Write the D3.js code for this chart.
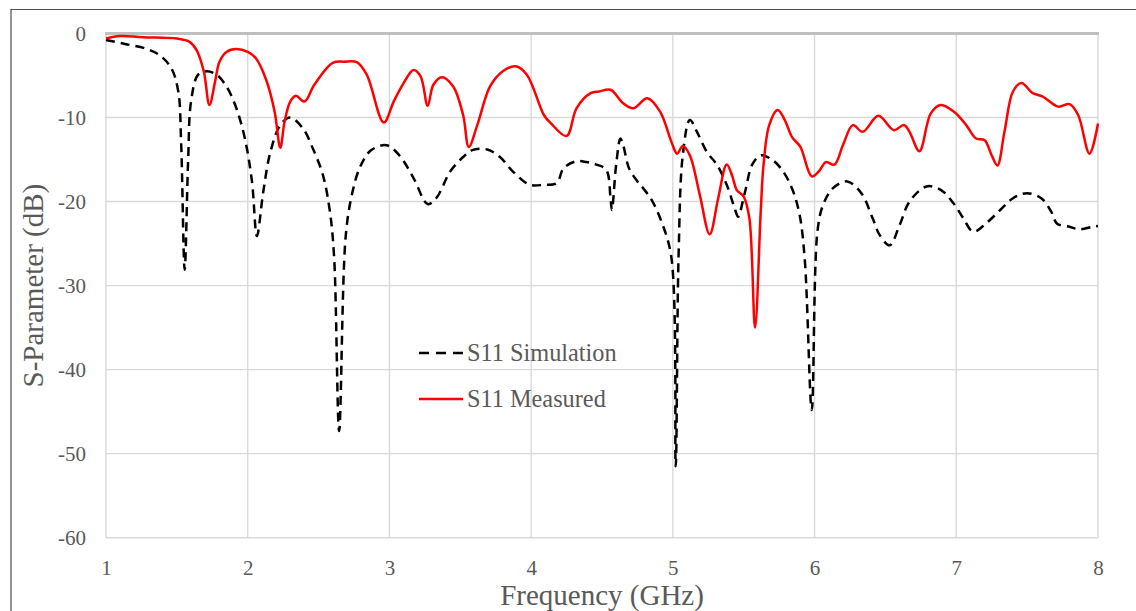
<!DOCTYPE html>
<html>
<head>
<meta charset="utf-8">
<script src="https://cdn.jsdelivr.net/npm/d3@7"></script>
<style>
  html, body { margin: 0; padding: 0; background: #fff; }
  svg { display: block; }
  text { font-family: "Liberation Serif", "Times New Roman", serif; fill: #595959; }
</style>
</head>
<body>
<svg id="chart" width="1136" height="611"></svg>
<script>
// Frequency axis ticks (GHz) and S-parameter ticks (dB)
const xTicks = [1, 2, 3, 4, 5, 6, 7, 8];
const yTicks = [0, -10, -20, -30, -40, -50, -60];

// S11 simulation: frequency (GHz) and magnitude (dB)
const simFreq = [1.00, 1.15, 1.29, 1.38, 1.46, 1.51, 1.53, 1.555, 1.58, 1.60, 1.65, 1.71, 1.78, 1.85, 1.92, 1.98, 2.03, 2.065, 2.11, 2.16, 2.23, 2.30, 2.39, 2.46, 2.53, 2.58, 2.61, 2.645, 2.69, 2.73, 2.79, 2.87, 2.98, 3.07, 3.17, 3.27, 3.33, 3.43, 3.52, 3.58, 3.69, 3.78, 3.87, 3.99, 4.09, 4.18, 4.23, 4.32, 4.39, 4.46, 4.53, 4.56, 4.57, 4.60, 4.63, 4.65, 4.69, 4.75, 4.79, 4.85, 4.92, 4.99, 5.02, 5.04, 5.07, 5.12, 5.17, 5.24, 5.31, 5.38, 5.44, 5.46, 5.51, 5.56, 5.62, 5.69, 5.76, 5.83, 5.89, 5.93, 5.98, 6.02, 6.06, 6.13, 6.23, 6.33, 6.41, 6.46, 6.53, 6.60, 6.67, 6.79, 6.89, 6.98, 7.05, 7.12, 7.21, 7.31, 7.40, 7.50, 7.60, 7.67, 7.71, 7.80, 7.87, 7.96, 8.00];
const simDb = [-0.77, -1.3, -1.85, -2.6, -4.1, -6.9, -12.9, -28.1, -14.9, -8.1, -4.9, -4.5, -4.9, -6.3, -8.9, -12.5, -17.6, -24.1, -18.8, -14.1, -10.9, -10.0, -11.3, -13.7, -16.8, -21.2, -26.7, -47.3, -24.4, -19.6, -16.0, -13.9, -13.3, -14.5, -17.2, -20.3, -19.6, -16.4, -14.7, -13.9, -13.8, -14.7, -16.4, -18.0, -18.0, -17.8, -16.0, -15.2, -15.3, -15.6, -16.2, -19.6, -21.0, -15.6, -12.5, -13.3, -16.0, -17.6, -18.4, -19.8, -22.4, -26.7, -51.5, -26.7, -14.5, -10.3, -11.7, -14.1, -15.6, -18.0, -21.0, -21.8, -18.8, -15.6, -14.5, -14.9, -16.0, -18.0, -21.2, -26.7, -44.8, -23.6, -20.4, -18.4, -17.6, -19.0, -22.0, -24.0, -25.2, -22.8, -20.0, -18.2, -18.6, -20.2, -22.0, -23.6, -22.6, -21.0, -19.6, -19.0, -19.6, -21.2, -22.6, -23.0, -23.3, -23.0, -22.9];

// S11 measured: frequency (GHz) and magnitude (dB)
const measFreq = [1.00, 1.10, 1.26, 1.50, 1.59, 1.64, 1.69, 1.73, 1.77, 1.80, 1.85, 1.92, 2.00, 2.06, 2.13, 2.19, 2.23, 2.26, 2.30, 2.34, 2.40, 2.47, 2.60, 2.68, 2.77, 2.84, 2.96, 3.03, 3.10, 3.17, 3.22, 3.27, 3.31, 3.37, 3.45, 3.52, 3.56, 3.62, 3.71, 3.80, 3.89, 3.97, 4.09, 4.14, 4.25, 4.32, 4.42, 4.48, 4.56, 4.65, 4.72, 4.82, 4.91, 4.99, 5.03, 5.07, 5.12, 5.19, 5.26, 5.32, 5.38, 5.42, 5.45, 5.50, 5.54, 5.58, 5.62, 5.64, 5.68, 5.74, 5.79, 5.84, 5.90, 5.98, 6.03, 6.08, 6.14, 6.20, 6.27, 6.34, 6.45, 6.56, 6.63, 6.67, 6.74, 6.82, 6.89, 6.99, 7.07, 7.14, 7.20, 7.25, 7.29, 7.34, 7.40, 7.46, 7.54, 7.61, 7.72, 7.80, 7.86, 7.94, 8.00];
const measDb = [-0.6, -0.3, -0.45, -0.6, -1.0, -2.0, -4.5, -8.5, -5.7, -3.4, -2.2, -1.85, -2.2, -3.0, -5.5, -9.3, -13.6, -10.5, -8.1, -7.4, -8.1, -6.1, -3.5, -3.35, -3.4, -4.9, -10.6, -8.1, -5.9, -4.35, -5.1, -8.6, -6.1, -5.2, -6.3, -9.7, -13.5, -10.9, -6.3, -4.5, -3.9, -4.9, -9.7, -10.7, -12.2, -8.9, -7.1, -6.9, -6.7, -8.3, -8.9, -7.7, -9.3, -12.9, -14.3, -13.4, -14.5, -19.2, -23.9, -19.6, -15.6, -17.0, -18.6, -19.4, -22.0, -35.0, -21.2, -15.6, -10.9, -9.1, -10.3, -12.3, -13.5, -17.0, -16.4, -15.3, -15.6, -13.3, -10.9, -11.7, -9.8, -11.5, -10.9, -11.7, -14.0, -9.5, -8.5, -9.4, -10.9, -12.5, -12.7, -14.5, -15.7, -11.7, -6.9, -5.9, -7.1, -7.5, -8.7, -8.4, -9.7, -14.3, -10.7];

const seriesNames = ["S11 Simulation", "S11 Measured"];

const svg = d3.select("#chart");
const W = 1136, H = 611;
const plot = { left: 106, right: 1098, top: 33.5, bottom: 537.7 };

svg.append("rect").attr("width", W).attr("height", H).attr("fill", "#fff");

// outer chart frame (top and left edges)
svg.append("path")
  .attr("d", `M11,${H} L11,9.5 L${W},9.5`)
  .attr("fill", "none").attr("stroke", "#4d4d4d").attr("stroke-width", 1.2);

const x = d3.scaleLinear().domain([1, 8]).range([plot.left, plot.right]);
const y = d3.scaleLinear().domain([-60, 0]).range([plot.bottom, plot.top]);

// gridlines
const grid = svg.append("g").attr("class", "grid");
grid.selectAll("line.v").data(xTicks).join("line")
  .attr("x1", d => x(d)).attr("x2", d => x(d))
  .attr("y1", plot.top).attr("y2", plot.bottom)
  .attr("stroke", "#d9d9d9").attr("stroke-width", 1.4);
grid.selectAll("line.h").data(yTicks.filter(d => d !== 0)).join("line")
  .attr("x1", plot.left).attr("x2", plot.right)
  .attr("y1", d => y(d)).attr("y2", d => y(d))
  .attr("stroke", "#d9d9d9").attr("stroke-width", 1.4);

// horizontal axis line crossing at 0 dB
svg.append("line")
  .attr("x1", plot.left - 1).attr("x2", plot.right + 1)
  .attr("y1", y(0)).attr("y2", y(0))
  .attr("stroke", "#bfbfbf").attr("stroke-width", 3);

// tick labels via d3 axes (plain hyphen for negatives)
const plain = d => String(d);
const xAxis = d3.axisBottom(x).tickValues(xTicks).tickSize(0).tickPadding(0).tickFormat(plain);
const gx = svg.append("g").attr("transform", `translate(0,${plot.bottom + 22})`).call(xAxis);
gx.select(".domain").remove();
gx.selectAll("text").attr("font-size", 21).attr("fill", "#595959")
  .attr("font-family", "Liberation Serif, serif").attr("dy", "0.71em");

const yAxis = d3.axisLeft(y).tickValues(yTicks).tickSize(0).tickPadding(0).tickFormat(plain);
const gy = svg.append("g").attr("transform", `translate(${plot.left - 20},0)`).call(yAxis);
gy.select(".domain").remove();
gy.selectAll("text").attr("font-size", 21).attr("fill", "#595959")
  .attr("font-family", "Liberation Serif, serif").attr("dy", "0.34em");

// axis titles
svg.append("text")
  .attr("x", (plot.left + plot.right) / 2).attr("y", 605)
  .attr("text-anchor", "middle").attr("font-size", 29)
  .text("Frequency (GHz)");
svg.append("text")
  .attr("transform", `translate(43,${(plot.top + plot.bottom) / 2}) rotate(-90)`)
  .attr("text-anchor", "middle").attr("font-size", 29)
  .text("S-Parameter (dB)");

// series
const line = d3.line()
  .x(d => x(d[0])).y(d => y(d[1]))
  .curve(d3.curveCatmullRom.alpha(0.5));

const simData = simFreq.map((f, i) => [f, simDb[i]]);
const measData = measFreq.map((f, i) => [f, measDb[i]]);

svg.append("path").datum(simData)
  .attr("d", line).attr("fill", "none")
  .attr("stroke", "#000").attr("stroke-width", 2.5)
  .attr("stroke-dasharray", "9,6");

svg.append("path").datum(measData)
  .attr("d", line).attr("fill", "none")
  .attr("stroke", "#ff0000").attr("stroke-width", 2.5);

// legend
const legend = svg.append("g");
const legendItems = [
  { name: seriesNames[0], color: "#000", dash: "10,7", yPos: 353 },
  { name: seriesNames[1], color: "#ff0000", dash: null, yPos: 399 }
];
legendItems.forEach(it => {
  legend.append("line")
    .attr("x1", 419).attr("x2", 463).attr("y1", it.yPos).attr("y2", it.yPos)
    .attr("stroke", it.color).attr("stroke-width", 2.5)
    .attr("stroke-dasharray", it.dash);
  legend.append("text")
    .attr("x", 467).attr("y", it.yPos).attr("dy", "0.33em")
    .attr("font-size", 24.3).text(it.name);
});
</script>
</body>
</html>
